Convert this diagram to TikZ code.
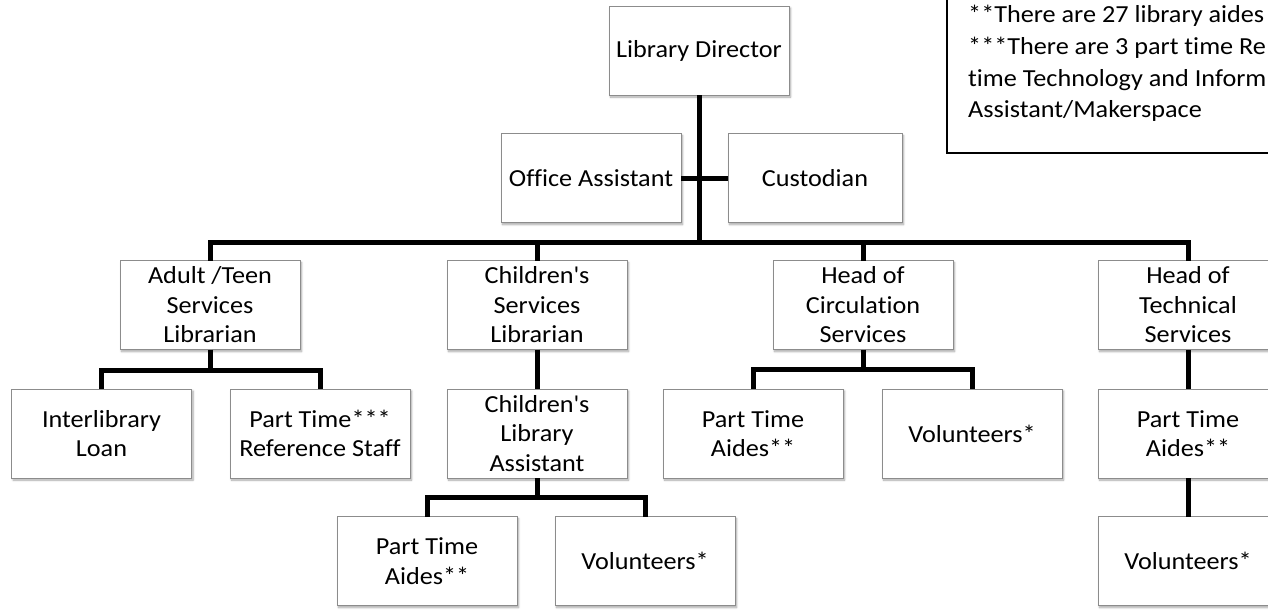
\documentclass[tikz,border=0pt]{standalone}
\usepackage{fontspec}
\setmainfont{Carlito}[FakeStretch=1.07, Ligatures=NoCommon]
\usetikzlibrary{shadows.blur}

\tikzset{
  box/.style={draw=black!45, line width=0.9pt, fill=white,
    minimum width=180pt, minimum height=89pt, inner sep=0pt, outer sep=0pt,
    align=center, font=\fontsize{24.5}{29.5}\selectfont,
    blur shadow={shadow xshift=1.5pt, shadow yshift=-2pt,
      shadow blur radius=2pt, shadow blur steps=6, shadow opacity=35}},
  conn/.style={line width=5pt, draw=black, line join=miter},
  notetext/.style={anchor=base west, inner sep=0pt, font=\fontsize{24.5}{31}\selectfont}
}

\begin{document}
\begin{tikzpicture}[x=1pt, y=-1pt]
\useasboundingbox (0,0) rectangle (1268,610);
\clip (0,0) rectangle (1268,610);

% footnote panel at the top right
\draw[line width=1.4pt, fill=white] (947,-20) rectangle (1300,153);
\node[notetext] (n1) at (968,23) {**There are 27 library aides};
\node[notetext] (n2) at (968,55) {***There are 3 part time Re};
\node[notetext] (n3) at (968,86) {time Technology and Inform};
\node[notetext] (n4) at (968,117) {Assistant/Makerspace};

% boxes
\node[box] (dir)    at (699,50.5)  {Library Director};
\node[box, minimum width=180pt] (office) at (591,178) {Office Assistant};
\node[box, minimum width=174pt] (cust)   at (815,178) {Custodian};

\node[box] (adult) at (210,305)  {Adult /Teen\\Services\\Librarian};
\node[box] (chs)   at (537,305)  {Children\textquotesingle s\\Services\\Librarian};
\node[box] (circ)  at (863,305)  {Head of\\Circulation\\Services};
\node[box] (tech)  at (1188,305) {Head of\\Technical\\Services};

\node[box] (ill)   at (101.5,433.5) {Interlibrary\\Loan};
\node[box] (pts)   at (320,433.5)   {Part Time***\\Reference Staff};
\node[box] (cla)   at (537,433.5)   {Children\textquotesingle s\\Library\\Assistant};
\node[box] (cpta)  at (753,433.5)   {Part Time\\Aides**};
\node[box] (cvol)  at (972,433.5)   {Volunteers*};
\node[box] (tpta)  at (1188,433.5)  {Part Time\\Aides**};

\node[box] (kpta)  at (427,561)  {Part Time\\Aides**};
\node[box] (kvol)  at (645,561)  {Volunteers*};
\node[box] (tvol)  at (1188,561) {Volunteers*};

% director, staff line and main bus to the department heads
\coordinate (bus) at (699,242);
\draw[conn] (dir.south) -- (bus);
\draw[conn] (office.east) -- (cust.west);
\draw[conn] (adult.north) |- (bus) -| (tech.north);
\draw[conn] (chs.north) -- (chs.north |- bus);
\draw[conn] (circ.north) -- (circ.north |- bus);

% adult / teen services
\draw[conn] (adult.south) -- ++(0,21) coordinate (ab);
\draw[conn] (ill.north) |- (ab) -| (pts.north);

% children's services
\draw[conn] (chs.south) -- (cla.north);
\draw[conn] (cla.south) -- ++(0,19) coordinate (kb);
\draw[conn] (kpta.north) |- (kb) -| (kvol.north);

% circulation
\draw[conn] (circ.south) -- ++(0,20) coordinate (cb);
\draw[conn] (cpta.north) |- (cb) -| (cvol.north);

% technical services
\draw[conn] (tech.south) -- (tpta.north);
\draw[conn] (tpta.south) -- (tvol.north);
\end{tikzpicture}
\end{document}
